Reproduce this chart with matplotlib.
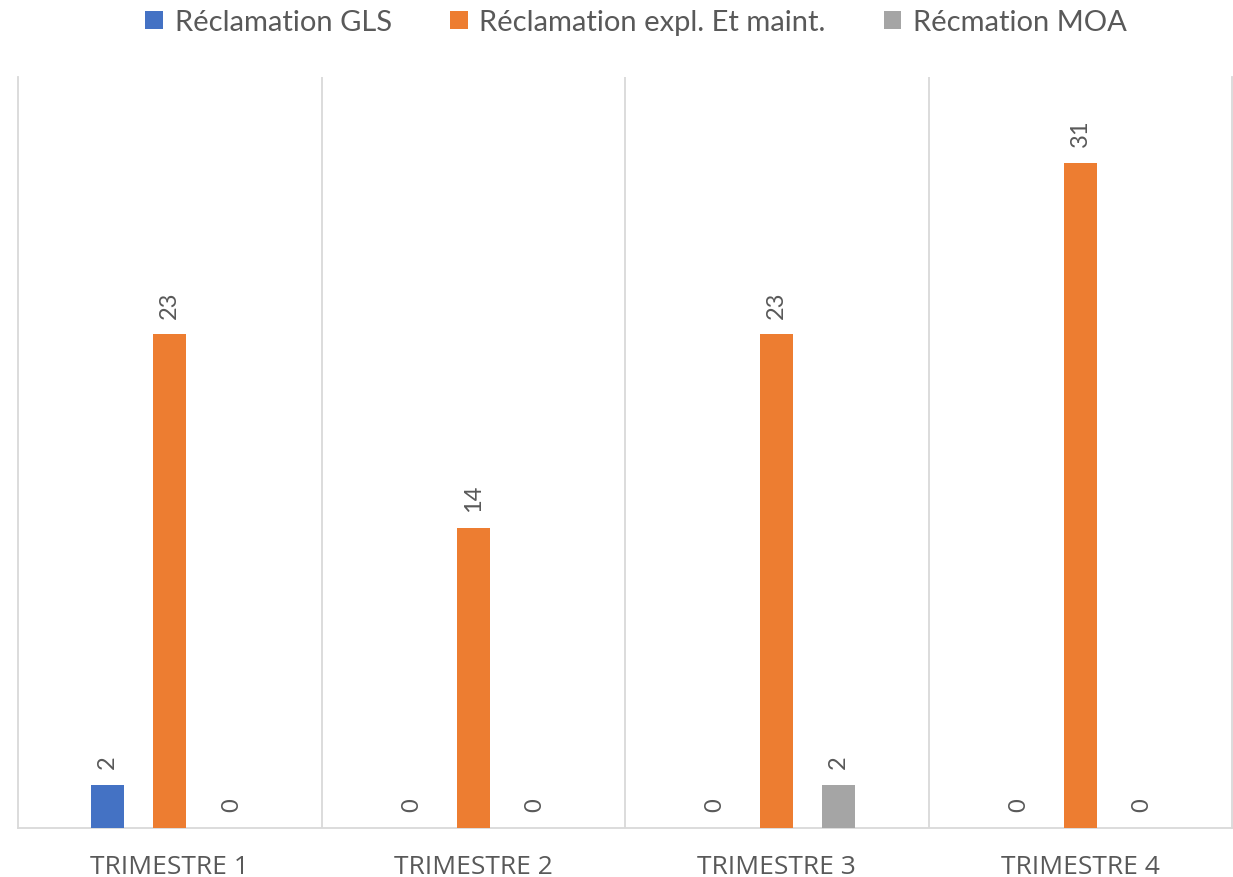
import matplotlib
matplotlib.use("Agg")
import matplotlib.pyplot as plt
import numpy as np

categories = ["TRIMESTRE 1", "TRIMESTRE 2", "TRIMESTRE 3", "TRIMESTRE 4"]
series_names = ["Réclamation GLS", "Réclamation expl. Et maint.", "Récmation MOA"]
gls = [2, 0, 0, 0]
expl = [23, 14, 23, 31]
moa = [0, 0, 2, 0]
colors = ["#4472C4", "#ED7D31", "#A5A5A5"]

plt.rcParams['font.family'] = ['Lato', 'DejaVu Sans']
text_color = "#595959"
grid_color = "#D9D9D9"

fig = plt.figure(figsize=(12.33, 8.78), dpi=100)
ax = fig.add_axes([0.0146, 0.0558, 0.9846, 0.8554])

x = np.arange(len(categories))
offset = 0.204
width = 0.109
all_series = [gls, expl, moa]
handles = []
for j, (vals, col, name) in enumerate(zip(all_series, colors, series_names)):
    pos = x + (j - 1) * offset
    b = ax.bar(pos, vals, width=width, color=col, label=name, zorder=3)
    handles.append(b)
    for px, v in zip(pos, vals):
        ax.annotate(str(v), (px, v), xytext=(0, 12), textcoords="offset points",
                    rotation=90, ha="center", va="bottom", fontsize=17,
                    color=text_color)

ax.set_xlim(-0.5, len(categories) - 0.5)
ax.set_ylim(0, 35)
for xv in np.arange(0.5, len(categories) - 0.5, 1.0):
    ax.axvline(xv, color=grid_color, lw=1.3, zorder=1)
ax.spines["top"].set_visible(False)
for s in ["left", "right", "bottom"]:
    ax.spines[s].set_color(grid_color)
    ax.spines[s].set_linewidth(1.3)
ax.set_yticks([])
ax.set_xticks(x)
ax.set_xticklabels(categories, fontsize=19, color=text_color,
                   family=['Open Sans', 'DejaVu Sans'])
ax.tick_params(axis="x", length=0, pad=19)

fig.legend(handles=handles, labels=series_names, loc="upper center",
           bbox_to_anchor=(0.516, 1.018), ncol=3, frameon=False, fontsize=21,
           labelcolor=text_color, handlelength=0.6, handleheight=0.6,
           handletextpad=0.4, columnspacing=2.0)

fig.savefig("out.png", dpi=100)
